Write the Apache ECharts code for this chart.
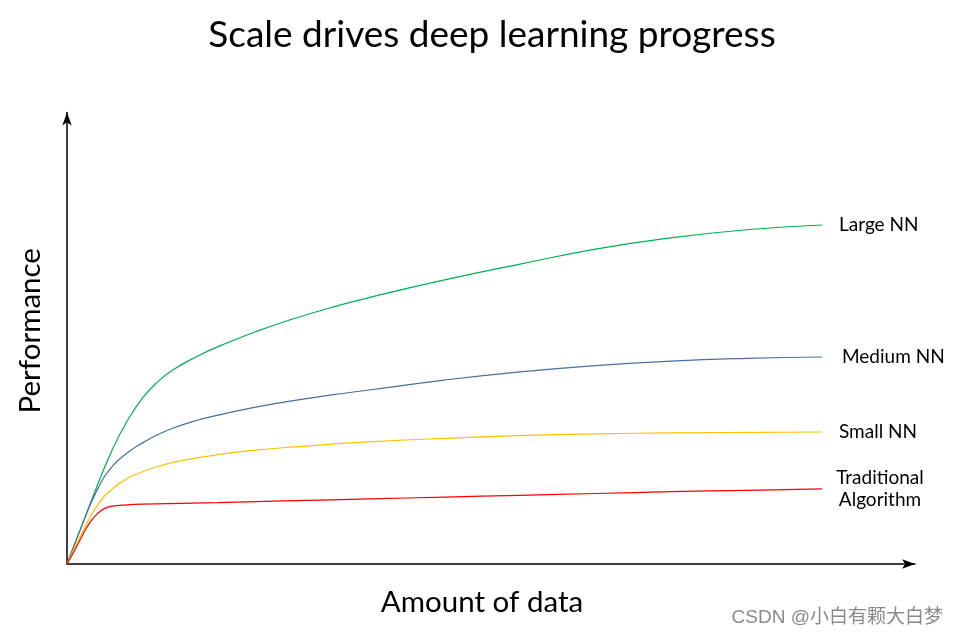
<!DOCTYPE html>
<html>
<head>
<meta charset="utf-8">
<script src="https://cdn.jsdelivr.net/npm/echarts@6/dist/echarts.min.js"></script>
<style>html,body{margin:0;padding:0;background:#fff;}#main{width:958px;height:637px;}</style>
</head>
<body>
<div id="main"></div>
<script>
// Amount of data (x) and performance (y)
var largeX = [0, 2, 4, 6, 8, 10, 12, 14, 17, 20, 25, 30, 35, 40, 50, 60, 70, 80, 90, 100];
var largeY = [0, 8.7, 17.3, 25.3, 31.7, 36.7, 40.3, 42.9, 45.75, 48.1, 51.4, 54.25, 56.75, 58.95, 62.85, 66.35, 69.65, 72.15, 73.95, 75.0];
var mediumX = [0, 2, 4, 6, 8, 10, 12, 14, 17, 20, 25, 30, 35, 40, 50, 60, 70, 80, 90, 100];
var mediumY = [0, 8.6, 16.4, 21.6, 24.6, 26.8, 28.6, 30.04, 31.69, 32.95, 34.7, 36.15, 37.4, 38.5, 40.7, 42.5, 43.9, 44.9, 45.5, 45.8];
var smallX = [0, 2, 4, 6, 8, 10, 12.5, 15, 20, 25, 30, 40, 50, 60, 70, 80, 100];
var smallY = [0, 6.9, 12.9, 16.6, 18.9, 20.4, 21.8, 22.8, 24.2, 25.2, 25.9, 27.0, 27.8, 28.4, 28.8, 29.0, 29.2];
var tradX = [0, 1, 2, 3, 4, 5, 6, 8, 10, 20, 30, 40, 50, 60, 70, 80, 90, 100];
var tradY = [0, 3.0, 6.2, 9.1, 11.1, 12.3, 12.8, 13.1, 13.25, 13.6, 14.0, 14.4, 14.8, 15.2, 15.6, 16.0, 16.3, 16.6];
var seriesNames = ['Large NN', 'Medium NN', 'Small NN', 'Traditional\nAlgorithm'];
var titleText = 'Scale drives deep learning progress';
var xName = 'Amount of data';
var yName = 'Performance';
var watermark = 'CSDN @小白有颗大白梦';

function pairs(xs, ys) { return xs.map(function (x, k) { return [x, ys[k]]; }); }
var datasets = [pairs(largeX, largeY), pairs(mediumX, mediumY), pairs(smallX, smallY), pairs(tradX, tradY)];

var xMax = 112.32, yMax = 99.89;
var colors = ['#00B050', '#4671A0', '#FFC000', '#FF0000'];

var chart = echarts.init(document.getElementById('main'), null, {renderer: 'canvas'});
var font = 'Lato, "Open Sans", sans-serif';
var series = datasets.map(function (d, i) {
  var isTrad = i === 3;
  return {
    type: 'line',
    name: seriesNames[i],
    data: d,
    smooth: 0.5,
    showSymbol: false,
    symbol: 'none',
    lineStyle: {color: colors[i], width: 1.2},
    endLabel: {
      show: true,
      formatter: seriesNames[i],
      color: '#000',
      fontFamily: font,
      fontSize: 19,
      lineHeight: 22,
      distance: isTrad ? 0 : (i === 1 ? 20 : 17),
      align: isTrad ? 'center' : 'left',
      offset: isTrad ? [58, 0] : [0, 0]
    },
    emphasis: {disabled: true},
    z: 3
  };
});

chart.setOption({
  animation: false,
  backgroundColor: '#fff',
  title: {
    text: titleText,
    left: 487, top: 12, textAlign: 'center',
    textStyle: {fontFamily: font, fontSize: 37, fontWeight: 'normal', color: '#000'}
  },
  grid: {left: 67, right: 43, top: 112.5, bottom: 73, containLabel: false, outerBoundsMode: 'none'},
  xAxis: {
    type: 'value', min: 0, max: xMax,
    name: xName, nameLocation: 'middle', nameGap: 23,
    nameTextStyle: {fontFamily: font, fontSize: 29.5, color: '#000', padding: [0, 18, 0, 0]},
    axisLine: {show: true, symbol: ['none', 'arrow'], symbolSize: [7, 13], lineStyle: {color: '#000', width: 1.5}},
    axisTick: {show: false}, axisLabel: {show: false}, splitLine: {show: false}
  },
  yAxis: {
    type: 'value', min: 0, max: yMax,
    name: yName, nameLocation: 'middle', nameGap: 22,
    nameTextStyle: {fontFamily: font, fontSize: 29.5, color: '#000', padding: [0, 0, 0, 15]},
    axisLine: {show: true, symbol: ['none', 'arrow'], symbolSize: [7, 13], lineStyle: {color: '#000', width: 1.5}},
    axisTick: {show: false}, axisLabel: {show: false}, splitLine: {show: false}
  },
  graphic: [{
    type: 'text', right: 15, top: 608,
    style: {
      text: watermark, fill: '#8a8a8a',
      font: '19px "Liberation Sans", "Noto Sans CJK SC", sans-serif',
      textShadowColor: 'rgba(255,255,255,0.9)', textShadowBlur: 1, textShadowOffsetX: 1, textShadowOffsetY: 1
    }
  }],
  series: series
});
</script>
</body>
</html>
